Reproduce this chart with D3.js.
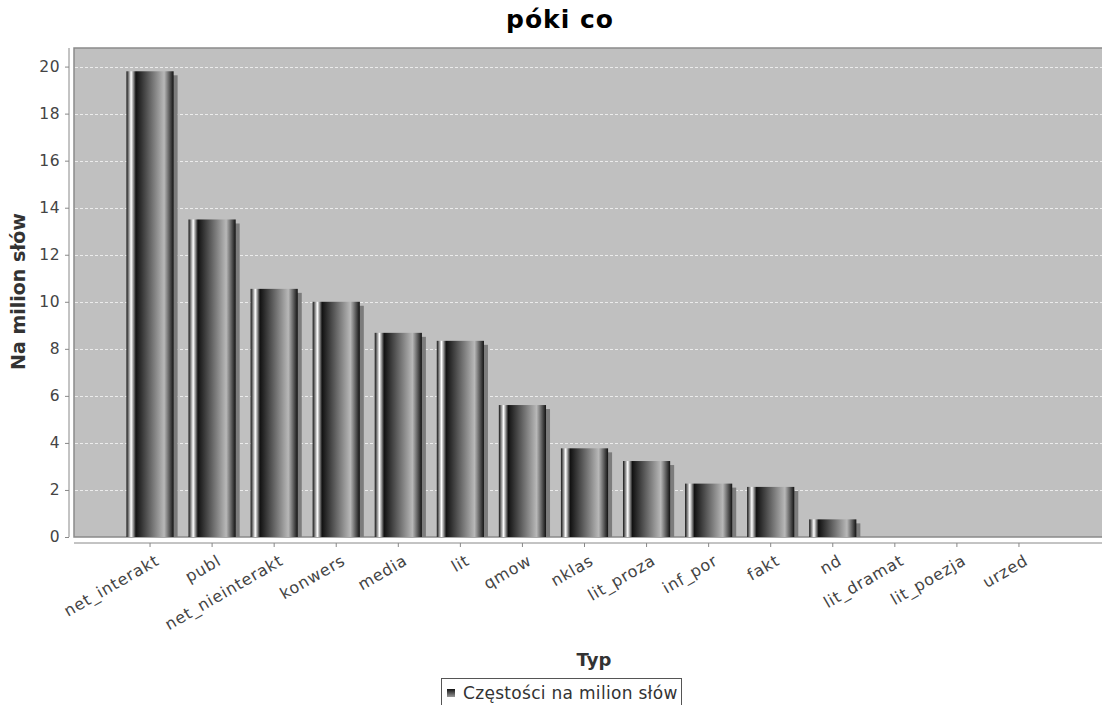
<!DOCTYPE html>
<html>
<head>
<meta charset="utf-8">
<script src="https://cdn.jsdelivr.net/npm/d3@7/dist/d3.min.js"></script>
<style>
  html, body { margin: 0; padding: 0; background: #ffffff; }
  svg { display: block; font-family: "DejaVu Sans", sans-serif; }
</style>
</head>
<body>
<svg id="chart" width="1102" height="705"></svg>
<script>
// Frequency per million words, by text type
const categories = ["net_interakt", "publ", "net_nieinterakt", "konwers", "media", "lit",
  "qmow", "nklas", "lit_proza", "inf_por", "fakt", "nd", "lit_dramat", "lit_poezja", "urzed"];
const values = [19.8, 13.5, 10.55, 10.0, 8.68, 8.34, 5.61, 3.77, 3.23, 2.27, 2.13, 0.75, 0, 0, 0];
const yTicks = [0, 2, 4, 6, 8, 10, 12, 14, 16, 18, 20];
const seriesName = "Częstości na milion słów";
const chartTitle = "póki co";
const xTitle = "Typ";
const yTitle = "Na milion słów";

const svg = d3.select("#chart");

// plot area
const plot = { left: 74, top: 48, right: 1114, bottom: 537 };

const x = d3.scaleBand()
  .domain(categories)
  .range([119, 1050])
  .paddingInner(0.24)
  .paddingOuter(0.12);

const y = d3.scaleLinear()
  .domain([0, d3.max(values) * 1.05])
  .range([plot.bottom, plot.top]);

const defs = svg.append("defs");

// horizontal bar gradient: dark edge -> white highlight -> dark -> light -> dark
const grad = defs.append("linearGradient")
  .attr("id", "barGrad")
  .attr("x1", "0%").attr("x2", "100%").attr("y1", "0%").attr("y2", "0%");
const c0 = "#121212", c1 = "#b8b8b8";
[[0, c0], [0.10, "#ffffff"], [0.20, c0], [0.80, c1], [1.0, c0]].forEach(([o, c]) => {
  grad.append("stop").attr("offset", (o * 100) + "%").attr("stop-color", c);
});

const legGrad = defs.append("linearGradient")
  .attr("id", "legGrad")
  .attr("x1", "0%").attr("x2", "0%").attr("y1", "0%").attr("y2", "100%");
legGrad.append("stop").attr("offset", "0%").attr("stop-color", "#111");
legGrad.append("stop").attr("offset", "100%").attr("stop-color", "#999");

// title
svg.append("text")
  .attr("x", 560).attr("y", 28)
  .attr("text-anchor", "middle")
  .attr("font-size", 25).attr("font-weight", "bold").attr("fill", "#000")
  .attr("letter-spacing", 1)
  .text(chartTitle);

// plot background
svg.append("rect")
  .attr("x", plot.left).attr("y", plot.top)
  .attr("width", plot.right - plot.left).attr("height", plot.bottom - plot.top)
  .attr("fill", "#c0c0c0")
  .attr("stroke", "#8a8a8a").attr("stroke-width", 1.5);

// gridlines
svg.append("g").selectAll("line")
  .data(yTicks.filter(d => d > 0))
  .join("line")
  .attr("x1", plot.left + 1).attr("x2", plot.right)
  .attr("y1", d => Math.round(y(d)) + 0.5).attr("y2", d => Math.round(y(d)) + 0.5)
  .attr("stroke", "#ececec").attr("stroke-width", 1)
  .attr("stroke-dasharray", "3,2");

const barData = categories.map((c, i) => ({ c, v: values[i] })).filter(d => d.v > 0);

// bar shadows
svg.append("g").selectAll("rect")
  .data(barData)
  .join("rect")
  .attr("x", d => x(d.c) + 4)
  .attr("y", d => y(d.v) + 4)
  .attr("width", x.bandwidth())
  .attr("height", d => Math.max(0, y(0) - y(d.v) - 4))
  .attr("fill", "#7c7c7c");

// bars
svg.append("g").selectAll("rect")
  .data(barData)
  .join("rect")
  .attr("x", d => x(d.c))
  .attr("y", d => y(d.v))
  .attr("width", x.bandwidth())
  .attr("height", d => y(0) - y(d.v))
  .attr("fill", "url(#barGrad)");

// y axis
const yAxis = d3.axisLeft(y).tickValues(yTicks).tickSize(4).tickPadding(5).tickFormat(d3.format("d"));
const yg = svg.append("g").attr("transform", `translate(${plot.left - 5},0)`).call(yAxis);
yg.select(".domain").attr("stroke", "#888").attr("d", `M-0,${plot.top}V${plot.bottom}`);
yg.selectAll(".tick line").attr("stroke", "#888");
yg.selectAll(".tick text").attr("font-size", 15.5).attr("fill", "#444")
  .attr("font-family", "DejaVu Sans, sans-serif").attr("letter-spacing", 0.5);

// x axis
const xAxis = d3.axisBottom(x).tickSize(4).tickFormat("");
const xg = svg.append("g").attr("transform", `translate(0,${plot.bottom + 6})`).call(xAxis);
xg.select(".domain").attr("stroke", "#888").attr("d", `M${plot.left},0H${plot.right}`);
xg.selectAll(".tick line").attr("stroke", "#888");

// rotated category labels
svg.append("g").selectAll("text")
  .data(categories)
  .join("text")
  .attr("transform", d => `translate(${x(d) + x.bandwidth() / 2 + 4},${plot.bottom + 16}) rotate(-30)`)
  .attr("text-anchor", "end")
  .attr("dy", "0.78em")
  .attr("font-size", 16).attr("fill", "#444")
  .attr("letter-spacing", 0.8)
  .text(d => d);

// axis titles
svg.append("text")
  .attr("transform", `translate(25,${(plot.top + plot.bottom) / 2 - 1}) rotate(-90)`)
  .attr("text-anchor", "middle")
  .attr("font-size", 19).attr("font-weight", "bold").attr("fill", "#333")
  .text(yTitle);

svg.append("text")
  .attr("x", (plot.left + plot.right) / 2).attr("y", 666)
  .attr("text-anchor", "middle")
  .attr("font-size", 18).attr("font-weight", "bold").attr("fill", "#333")
  .text(xTitle);

// legend
const leg = svg.append("g");
leg.append("rect")
  .attr("x", 441.5).attr("y", 678.5).attr("width", 240).attr("height", 30)
  .attr("fill", "#fff").attr("stroke", "#555").attr("stroke-width", 1);
leg.append("rect")
  .attr("x", 447).attr("y", 689).attr("width", 8).attr("height", 8)
  .attr("fill", "url(#legGrad)");
leg.append("text")
  .attr("x", 463).attr("y", 699)
  .attr("font-size", 17).attr("fill", "#333")
  .attr("letter-spacing", 0.3)
  .text(seriesName);
</script>
</body>
</html>
